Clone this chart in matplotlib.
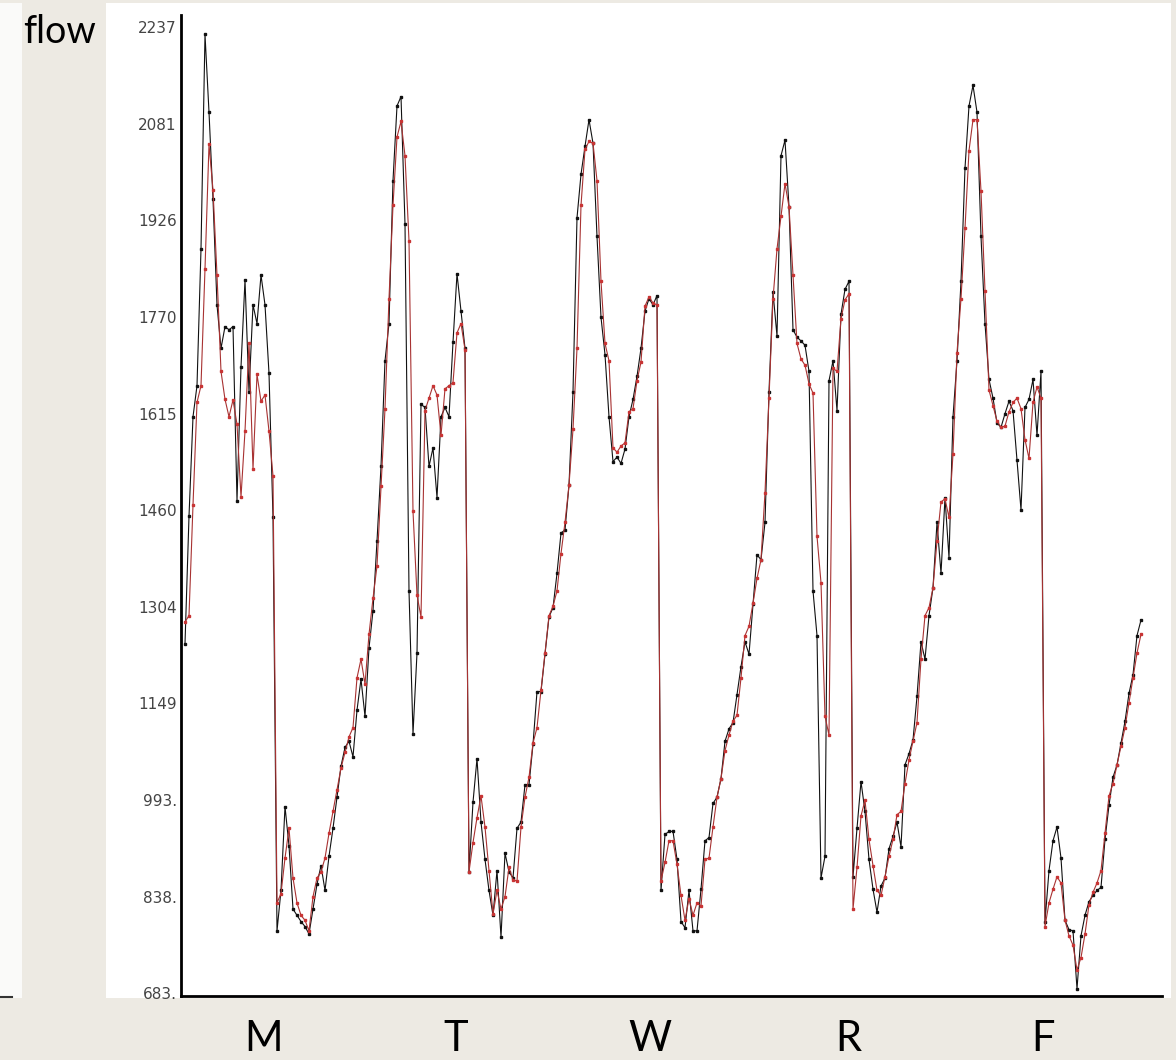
import numpy as np
import matplotlib.pyplot as plt
from matplotlib.patches import Rectangle

# 五天的流量数据, 每天48个点(半小时一个), 黑色=实测, 红色=预测
days = ['M', 'T', 'W', 'R', 'F']

actual_d1 = [1245, 1450, 1610, 1660, 1880, 2225, 2100, 1960, 1790, 1720, 1755, 1750,
             1755, 1475, 1690, 1830, 1650, 1790, 1760, 1838, 1790, 1680, 1448,
             783, 848, 983, 920, 818, 808, 798, 790, 778, 818, 858, 888, 848, 903,
             948, 998, 1048, 1078, 1088, 1063, 1138, 1188, 1128, 1238, 1298]
actual_d2 = [1410, 1530, 1700, 1760, 1990, 2110, 2125, 1920, 1330, 1100, 1230, 1630,
             1625, 1530, 1560, 1480, 1610, 1625, 1610, 1730, 1840, 1780, 1720,
             878, 990, 1060, 958, 898, 848, 808, 880, 773, 908, 878, 868, 948, 958,
             1018, 1018, 1083, 1168, 1168, 1228, 1288, 1303, 1358, 1423, 1428]
actual_d3 = [1500, 1650, 1930, 2000, 2045, 2088, 2050, 1900, 1770, 1710, 1610, 1538,
             1545, 1535, 1558, 1610, 1638, 1675, 1720, 1780, 1800, 1790, 1805,
             848, 938, 943, 943, 898, 798, 788, 848, 783, 783, 850, 928, 933, 988,
             998, 1028, 1088, 1108, 1118, 1163, 1208, 1248, 1228, 1308, 1388]
actual_d4 = [1380, 1440, 1650, 1810, 1740, 2030, 2055, 1948, 1750, 1738, 1732, 1725,
             1683, 1330, 1258, 868, 903, 1668, 1700, 1620, 1775, 1815, 1828,
             870, 948, 1023, 975, 898, 850, 813, 855, 868, 915, 935, 958, 918, 1050,
             1068, 1090, 1160, 1248, 1220, 1290, 1335, 1440, 1358, 1480, 1383]
actual_d5 = [1610, 1700, 1828, 2010, 2110, 2143, 2100, 1900, 1760, 1670, 1640, 1600,
             1593, 1615, 1635, 1620, 1540, 1460, 1625, 1638, 1670, 1580, 1683,
             798, 880, 928, 950, 900, 800, 785, 783, 690, 775, 808, 830, 840, 848,
             853, 930, 985, 1030, 1050, 1085, 1120, 1165, 1195, 1258, 1283]

pred_d1 = [1280, 1290, 1468, 1633, 1660, 1848, 2048, 1975, 1838, 1683, 1638, 1610,
           1637, 1598, 1481, 1587, 1729, 1526, 1678, 1635, 1645, 1587, 1515,
           828, 843, 900, 948, 868, 828, 808, 800, 783, 838, 868, 878, 900, 940,
           975, 1010, 1045, 1070, 1095, 1110, 1190, 1220, 1180, 1260, 1318]
pred_d2 = [1370, 1498, 1623, 1800, 1950, 2060, 2085, 2030, 1893, 1458, 1323, 1288,
           1620, 1640, 1660, 1645, 1580, 1655, 1660, 1665, 1745, 1760, 1718,
           878, 925, 965, 1000, 950, 880, 810, 848, 818, 838, 885, 865, 863, 950,
           998, 1030, 1085, 1110, 1170, 1230, 1290, 1305, 1330, 1390, 1440]
pred_d3 = [1500, 1590, 1720, 1950, 2040, 2053, 2050, 1990, 1828, 1728, 1700, 1560,
           1553, 1563, 1568, 1618, 1623, 1668, 1698, 1788, 1803, 1793, 1790,
           863, 893, 928, 928, 890, 840, 800, 835, 808, 828, 823, 898, 900, 950,
           998, 1028, 1073, 1098, 1120, 1130, 1190, 1258, 1273, 1310, 1350]
pred_d4 = [1380, 1488, 1640, 1800, 1880, 1933, 1985, 1948, 1838, 1728, 1703, 1693,
           1663, 1648, 1418, 1343, 1128, 1098, 1688, 1683, 1768, 1798, 1808,
           818, 885, 968, 993, 930, 888, 848, 840, 870, 903, 930, 970, 975, 1020,
           1058, 1088, 1118, 1220, 1290, 1303, 1335, 1410, 1473, 1478, 1448]
pred_d5 = [1550, 1713, 1800, 1913, 2038, 2088, 2088, 1973, 1813, 1653, 1628, 1603,
           1593, 1595, 1618, 1633, 1640, 1623, 1573, 1543, 1633, 1658, 1640,
           790, 828, 850, 870, 860, 800, 775, 760, 720, 740, 778, 825, 845, 860,
           880, 940, 1000, 1020, 1050, 1080, 1110, 1150, 1190, 1230, 1260]

ytick_vals = [683, 838, 993, 1149, 1304, 1460, 1615, 1770, 1926, 2081, 2237]
ytick_labels = ['683.', '838.', '993.', '1149', '1304', '1460', '1615',
                '1770', '1926', '2081', '2237']

actual = np.array(actual_d1 + actual_d2 + actual_d3 + actual_d4 + actual_d5)
pred = np.array(pred_d1 + pred_d2 + pred_d3 + pred_d4 + pred_d5)
t = np.arange(len(actual))

# 画布和背景
W, H = 1176, 1060
bg = '#EDEAE3'
fig = plt.figure(figsize=(W / 100, H / 100), dpi=100, facecolor=bg)
fig.patches.append(Rectangle((106 / W, 1 - 998 / H), (1171 - 106) / W, (998 - 3) / H,
                             transform=fig.transFigure, facecolor='white',
                             edgecolor='none', zorder=-2))
fig.patches.append(Rectangle((0, 1 - 998 / H), 22 / W, (998 - 3) / H,
                             transform=fig.transFigure, facecolor='#FAFAF9',
                             edgecolor='none', zorder=-2))
fig.add_artist(plt.Line2D([0, 12 / W], [1 - 997 / H, 1 - 997 / H],
                          transform=fig.transFigure, color='#333333', lw=1.5,
                          zorder=-1))

ax = fig.add_axes([181 / W, 1 - 996 / H, (1162 - 181) / W, (996 - 15) / H])
ax.set_facecolor('none')

ax.plot(t, actual, color='#111111', lw=0.8, marker='s', ms=2.0, mfc='#111111',
        mec='#111111', zorder=2)
ax.plot(t, pred, color='#A83232', lw=0.8, marker='s', ms=2.0, mfc='#C83434',
        mec='#C83434', zorder=3)

ax.set_xlim(-1, 244.25)
ax.set_ylim(678.2, 2256.3)

for s in ['top', 'right']:
    ax.spines[s].set_visible(False)
for s in ['left', 'bottom']:
    ax.spines[s].set_linewidth(2)
    ax.spines[s].set_color('black')

ax.set_xticks([])
ax.set_yticks(ytick_vals)
ax.set_yticklabels(ytick_labels, fontsize=11, color='#444444', family='DejaVu Sans')
ax.tick_params(axis='y', length=0, pad=3)

# 星期标签
day_pos = [19.5, 67.75, 116.25, 165.75, 214.5]
for x, d in zip(day_pos, days):
    ax.text(x, -0.056, d, transform=ax.get_xaxis_transform(), ha='center',
            va='baseline', fontsize=30, family='Lato', color='black')

fig.text(23 / W, 1 - 43 / H, 'flow', ha='left', va='baseline', fontsize=27,
         family='Lato', color='black')

fig.savefig('out.png', dpi=100, facecolor=bg)
